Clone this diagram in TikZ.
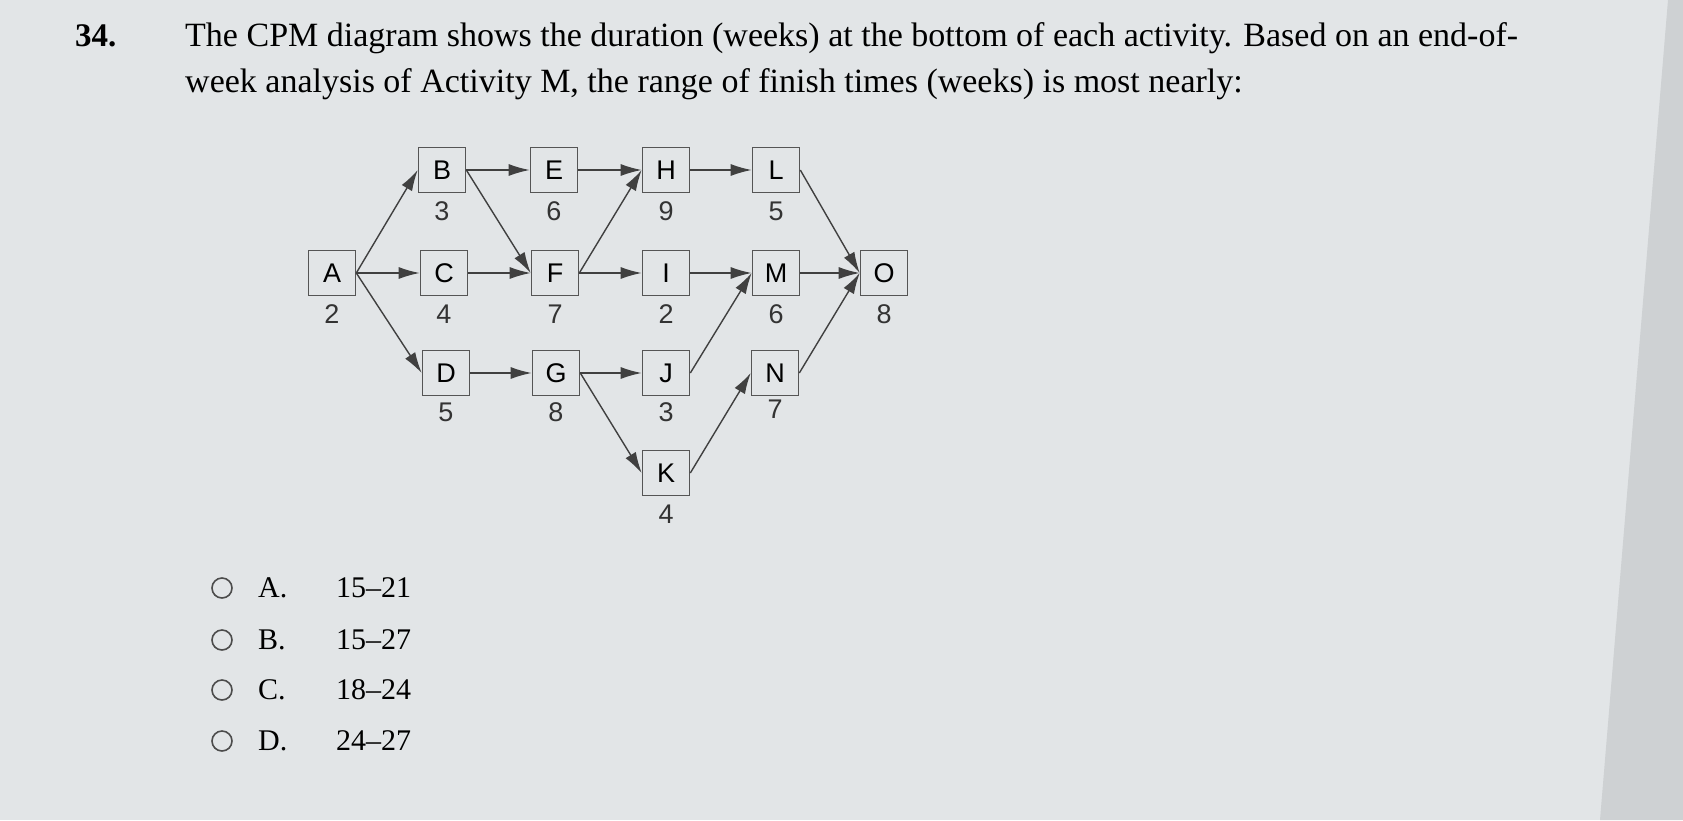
\documentclass[tikz,border=0pt]{standalone}
\usepackage{fontspec}
\setmainfont{Liberation Serif}
\newfontfamily\diagfont{Liberation Sans}
\usetikzlibrary{arrows.meta}
\definecolor{screen}{RGB}{226,229,231}
\definecolor{bezel}{RGB}{206,209,211}
\definecolor{boxline}{RGB}{85,85,85}
\newcommand{\qsize}{\fontsize{34}{39}\selectfont}
\newcommand{\osize}{\fontsize{30}{34}\selectfont}
\newcommand{\dsize}{\fontsize{27}{30}\selectfont}

\begin{document}
\begin{tikzpicture}[x=1pt, y=-1pt,
  act/.style={draw=boxline, line width=1.6pt, minimum width=47pt, minimum height=45pt, inner sep=0pt, font=\diagfont\dsize},
  dur/.style={font=\diagfont\dsize, text=black!80},
  link/.style={draw=black!75, line width=1.4pt, -{Latex[length=21pt,width=12pt]}}]
\useasboundingbox (0,0) rectangle (1683,820);
\fill[screen] (0,0) rectangle (1683,820);
\fill[bezel] (1668,0) -- (1683,0) -- (1683,820) -- (1600,820) -- cycle;

% question
\node[anchor=base west, inner sep=0pt, font=\fontsize{33}{39}\selectfont\bfseries] (num) at (75,46) {34.};
\node[anchor=base west, inner sep=0pt, font=\qsize] (line1) at (185,46) {The CPM diagram shows the duration (weeks) at the bottom of each activity. Based on an end-of-};
\node[anchor=base west, inner sep=0pt, font=\qsize] (line2) at (185,92) {week analysis of Activity M, the range of finish times (weeks) is most nearly:};

% activities
\node[act] (A) at (332,273) {A};
\node[act] (B) at (442,170) {B};
\node[act] (C) at (444,273) {C};
\node[act] (D) at (446,373) {D};
\node[act] (E) at (554,170) {E};
\node[act] (F) at (555,273) {F};
\node[act] (G) at (556,373) {G};
\node[act] (H) at (666,170) {H};
\node[act] (I) at (666,273) {I};
\node[act] (J) at (666,373) {J};
\node[act] (K) at (666,473) {K};
\node[act] (L) at (776,170) {L};
\node[act] (M) at (776,273) {M};
\node[act] (N) at (775,373) {N};
\node[act] (O) at (884,273) {O};

% durations
\node[dur] (dA) at (332,314) {2};
\node[dur] (dB) at (442,211) {3};
\node[dur] (dC) at (444,314) {4};
\node[dur] (dD) at (446,412) {5};
\node[dur] (dE) at (554,211) {6};
\node[dur] (dF) at (555,314) {7};
\node[dur] (dG) at (556,412) {8};
\node[dur] (dH) at (666,211) {9};
\node[dur] (dI) at (666,314) {2};
\node[dur] (dJ) at (666,412) {3};
\node[dur] (dK) at (666,514) {4};
\node[dur] (dL) at (776,211) {5};
\node[dur] (dM) at (776,314) {6};
\node[dur] (dN) at (775,409) {7};
\node[dur] (dO) at (884,314) {8};

% links
\foreach \a/\b in {A/B, A/C, A/D, B/E, B/F, C/F, D/G, E/H, F/H, F/I, G/J, G/K, H/L, I/M, J/M, K/N, L/O, M/O, N/O}
  \draw[link] (\a.east) -- (\b.west);

% choices
\foreach \y/\l/\r [count=\i] in {588/A./15--21, 640/B./15--27, 690/C./18--24, 741/D./24--27} {
  \node[draw=black!70, line width=1.6pt, circle, minimum size=20pt, inner sep=0pt] (ring\i) at (222,\y) {};
  \node[anchor=base west, inner sep=0pt, font=\osize] (opt\i) at (258,\y+9) {\l};
  \node[anchor=base west, inner sep=0pt, font=\osize] (val\i) at (336,\y+9) {\r};
}
\end{tikzpicture}
\end{document}
